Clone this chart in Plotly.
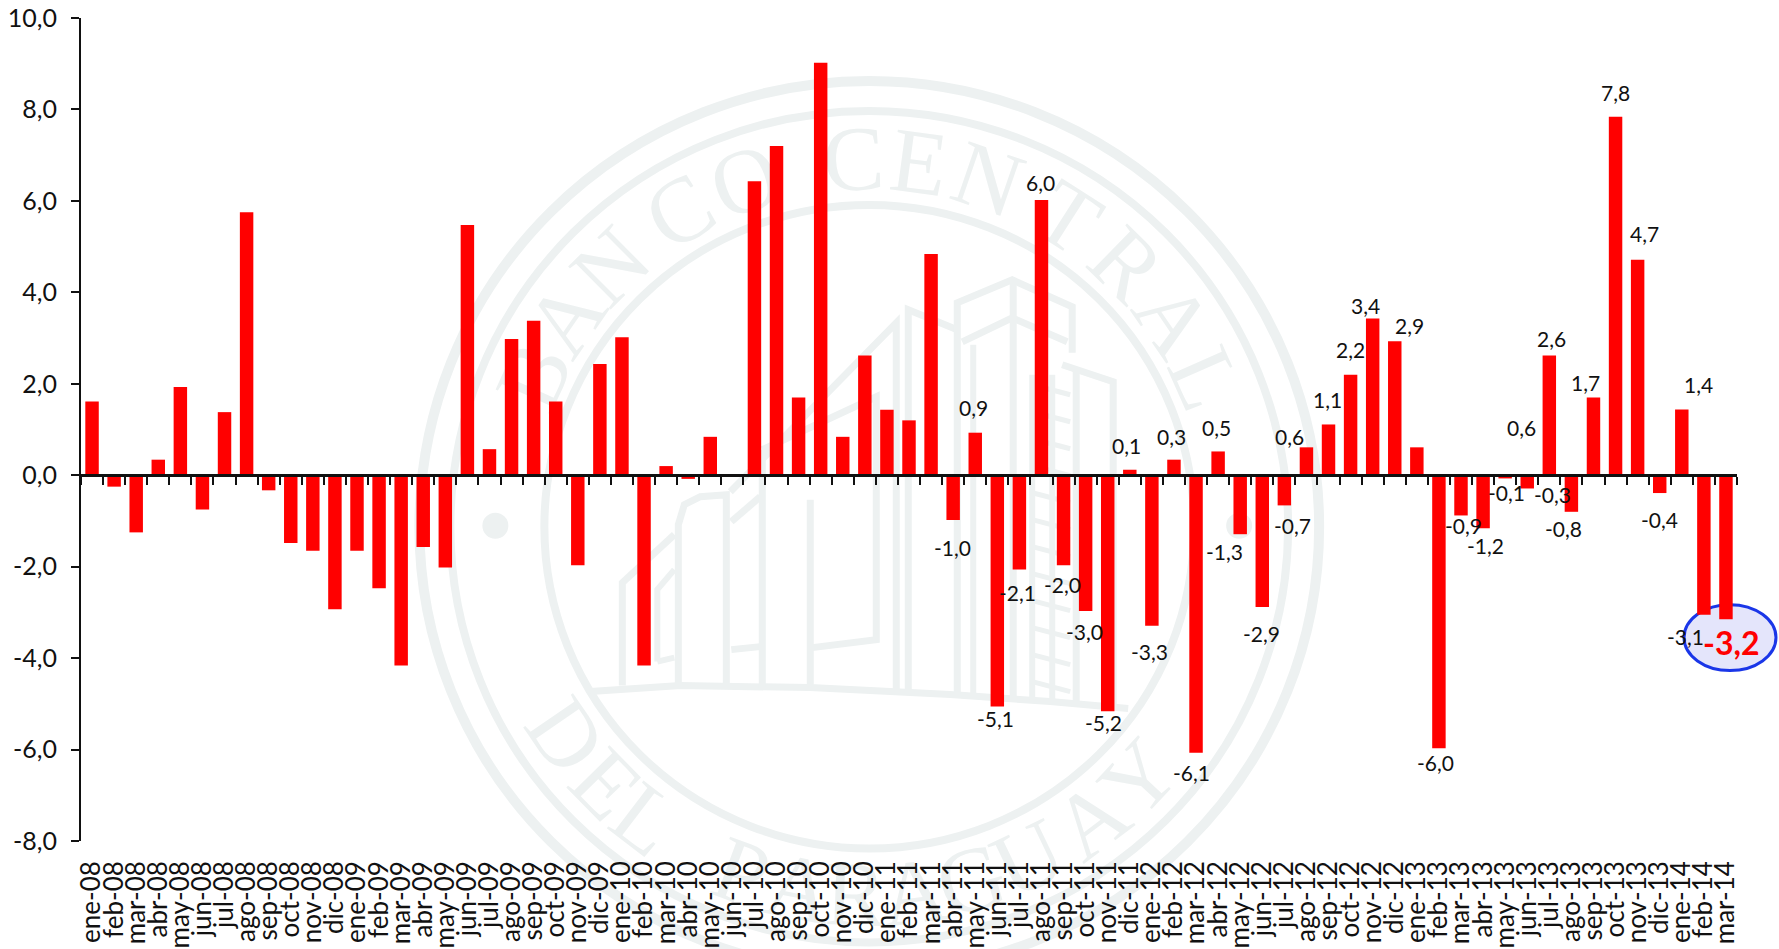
import math
import plotly.graph_objects as go

# ---- data ----
months = ["ene", "feb", "mar", "abr", "may", "jun", "jul", "ago", "sep", "oct", "nov", "dic"]
categories = [f"{months[i % 12]}-{8 + i // 12:02d}" for i in range(75)]
values = [
    1.61, -0.25, -1.25, 0.34, 1.93, -0.75, 1.38, 5.75, -0.33, -1.48, -1.65, -2.93,
    -1.65, -2.47, -4.16, -1.57, -2.02, 5.47, 0.57, 2.98, 3.38, 1.61, -1.97, 2.43,
    3.02, -4.16, 0.20, -0.08, 0.84, 0.0, 6.43, 7.20, 1.70, 9.02, 0.84, 2.62,
    1.43, 1.20, 4.84, -0.98, 0.93, -5.06, -2.06, 6.02, -1.97, -2.97, -5.16, 0.12,
    -3.29, 0.34, -6.07, 0.52, -1.29, -2.88, -0.66, 0.61, 1.11, 2.20, 3.43, 2.93,
    0.61, -5.97, -0.88, -1.16, -0.07, -0.29, 2.62, -0.80, 1.70, 7.84, 4.71, -0.39,
    1.44, -3.05, -3.15,
]
first_labelled = 39
value_labels = [
    "-1,0", "0,9", "-5,1", "-2,1", "6,0", "-2,0", "-3,0", "-5,2", "0,1", "-3,3", "0,3", "-6,1",
    "0,5", "-1,3", "-2,9", "-0,7", "0,6", "1,1", "2,2", "3,4", "2,9", "0,6", "-6,0", "-0,9",
    "-1,2", "-0,1", "-0,3", "2,6", "-0,8", "1,7", "7,8", "4,7", "-0,4", "1,4", "-3,1", "-3,2",
]
# pixel offset of each label from the end of its bar (right, down)
label_offsets = [
    (-1, 27), (-2, -25), (-2, 12), (-2, 23), (-1, -17), (-1, 19), (-1.5, 20), (-4.5, 11), (-3, -24),
    (-2, 26), (-2, -23), (-5, 20), (-2, -24), (-16, 17.5), (-1, 27), (8, 20), (-17, -11), (-1, -25),
    (0, -25), (-7, -13), (15, -16), (105, -20), (-3, 14), (2, 10), (2, 17), (1, 14), (25, 6), (2, -17),
    (-8, 17), (-7.5, -15), (0, -24), (7, -26), (0, 26), (17, -25), (-18, 22), (6, 23),
]
y_ticks = [10, 8, 6, 4, 2, 0, -2, -4, -6, -8]
y_tick_labels = ["10,0", "8,0", "6,0", "4,0", "2,0", "0,0", "-2,0", "-4,0", "-6,0", "-8,0"]

# ---- layout constants ----
W, H = 1779, 949
L, R, T, B = 80.5, 1737.0, 18.0, 841.5
FONT = "Lato"
INK = "#111111"
SEAL = "#edf1f1"
px = lambda x: (x - L) / (R - L)
py = lambda y: (B - y) / (B - T)

shapes = []


def ring(cx, cy, rx, ry, width):
    shapes.append(dict(type="circle", xref="paper", yref="paper", layer="below",
                       x0=px(cx - rx), x1=px(cx + rx), y0=py(cy + ry), y1=py(cy - ry),
                       line=dict(color=SEAL, width=width), fillcolor="rgba(0,0,0,0)"))


def disc(cx, cy, r):
    shapes.append(dict(type="circle", xref="paper", yref="paper", layer="below",
                       x0=px(cx - r), x1=px(cx + r), y0=py(cy + r), y1=py(cy - r),
                       line=dict(width=0), fillcolor=SEAL))


def stroke(points, width=7):
    d = "M " + " L ".join(f"{px(x):.5f} {py(y):.5f}" for x, y in points)
    shapes.append(dict(type="path", xref="paper", yref="paper", layer="below", path=d,
                       line=dict(color=SEAL, width=width)))


# seal
CX, CY = 869, 527
ring(CX, CY, 450, 446, 10)
ring(CX, CY, 419, 416, 8)
ring(CX, CY, 325, 322, 8)
disc(495, 526, 13)
disc(1239, 526, 13)
# ground
stroke([(590, 692), (680, 686), (810, 688), (950, 695), (1050, 702), (1128, 709)])
# left round tower and wing
stroke([(678, 685), (678, 525), (684, 505), (700, 497), (726, 495), (726, 685)])
stroke([(622, 686), (622, 583), (674, 535)])
stroke([(657, 662), (657, 590), (674, 570)], 6)
stroke([(657, 662), (674, 658)], 6)
# middle blocks
stroke([(730, 492), (896, 323), (896, 690)])
stroke([(731, 522), (760, 497)])
stroke([(731, 650), (760, 647)])
stroke([(762, 450), (762, 688)])
stroke([(762, 450), (876, 397), (876, 640), (812, 648)])
stroke([(810, 500), (810, 688)])
# right towers
stroke([(908, 692), (908, 310), (957, 330)])
stroke([(957, 694), (957, 303), (1012, 280), (1072, 307), (1072, 353)])
stroke([(962, 342), (1012, 318), (1067, 342)])
stroke([(1013, 280), (1013, 698)])
stroke([(973, 345), (973, 696)], 6)
stroke([(1062, 365), (1113, 382), (1113, 708)])
stroke([(1076, 370), (1076, 705)])
stroke([(1032, 375), (1032, 700)], 6)
stroke([(1052, 375), (1052, 700)], 6)
for k in range(12):
    y = 385 + k * 27
    stroke([(1032, y), (1070, y + 10)], 5)

# lavender ellipse behind the last bars
shapes.append(dict(type="circle", xref="paper", yref="paper", layer="below",
                   x0=px(1684), x1=px(1776), y0=py(671), y1=py(605),
                   line=dict(color="#1a36e8", width=3), fillcolor="#e4e5fb"))

# seal lettering (moved below the bars by the post script)
seal_top = list(zip("BANCOCENTRAL", [-65.8, -55.5, -44.8, -31, -19.8, -2.5, 7.7, 18.9, 32.7, 44.4, 55.7, 66.1]))
seal_bottom = list(zip("DELPARAGUAY", [55.5, 45.6, 37.4, 20.3, 11, 2, -7, -16, -25.6, -37, -47]))
SEAL_R = 368
annotations = []
for ch, a in seal_top:
    t = math.radians(a)
    annotations.append(dict(text=ch, xref="paper", yref="paper", showarrow=False,
                            x=px(CX + SEAL_R * math.sin(t)), y=py(CY - SEAL_R * math.cos(t)),
                            xanchor="center", yanchor="middle", textangle=a,
                            font=dict(family="Liberation Serif", size=92, color=SEAL)))
for ch, a in seal_bottom:
    t = math.radians(a)
    annotations.append(dict(text=ch, xref="paper", yref="paper", showarrow=False,
                            x=px(CX - SEAL_R * math.sin(t)), y=py(CY + SEAL_R * math.cos(t)),
                            xanchor="center", yanchor="middle", textangle=a,
                            font=dict(family="Liberation Serif", size=92, color=SEAL)))
N_SEAL = len(annotations)

# value labels
for k, (text, (dx, dy)) in enumerate(zip(value_labels, label_offsets)):
    i = first_labelled + k
    last = i == len(values) - 1
    annotations.append(dict(text=text, x=categories[i], y=values[i], xref="x", yref="y",
                            showarrow=False, xanchor="center", yanchor="middle",
                            xshift=dx, yshift=-dy,
                            font=dict(family=FONT, size=32 if last else 21,
                                      color="#ff0000" if last else INK,
                                      weight="bold" if last else "normal")))

fig = go.Figure()
fig.add_trace(go.Bar(x=categories, y=values, marker=dict(color="#ff0000", line=dict(width=0)),
                     hoverinfo="skip", showlegend=False))
# carrier of the tick-marked zero axis
fig.add_trace(go.Scatter(x=[0, 75], y=[0, 0], xaxis="x2", mode="lines", opacity=0,
                         hoverinfo="skip", showlegend=False))

fig.update_layout(
    template="none",
    width=W, height=H, autosize=False,
    margin=dict(l=L, r=W - R, t=T, b=H - B, pad=0),
    paper_bgcolor="white", plot_bgcolor="rgba(0,0,0,0)",
    bargap=0.39, shapes=shapes, annotations=annotations,
    font=dict(family=FONT, color=INK),
    xaxis=dict(type="category", range=[-0.5, 74.5], tickmode="array", tickvals=categories,
               ticktext=categories, tickangle=-90, ticks="", showline=False, showgrid=False,
               zeroline=False, tickfont=dict(family=FONT, size=26, color=INK),
               ticklabelstandoff=14, automargin=False),
    xaxis2=dict(overlaying="x", anchor="free", position=8 / 18, side="bottom", type="linear",
                range=[0, 75], tick0=0, dtick=1, ticks="outside", ticklen=8, tickwidth=2,
                tickcolor=INK, showline=True, linecolor=INK, linewidth=2.5,
                showticklabels=False, showgrid=False, zeroline=False, automargin=False),
    yaxis=dict(range=[-8, 10], tickmode="array", tickvals=y_ticks, ticktext=y_tick_labels,
               ticks="outside", ticklen=8, tickwidth=2, tickcolor=INK, showline=True,
               linecolor=INK, linewidth=2, showgrid=False, zeroline=False, automargin=False,
               tickfont=dict(family=FONT, size=25, color=INK), ticklabelstandoff=9),
)

post = """
document.body.style.margin = '0';
var below = document.querySelector('.main-svg .layer-below');
document.querySelectorAll('.infolayer .annotation').forEach(function (n) {
  if (+n.getAttribute('data-index') < %d) { below.appendChild(n); }
});
""" % N_SEAL
fig.write_html("out.html", post_script=post, config={"displayModeBar": False})
